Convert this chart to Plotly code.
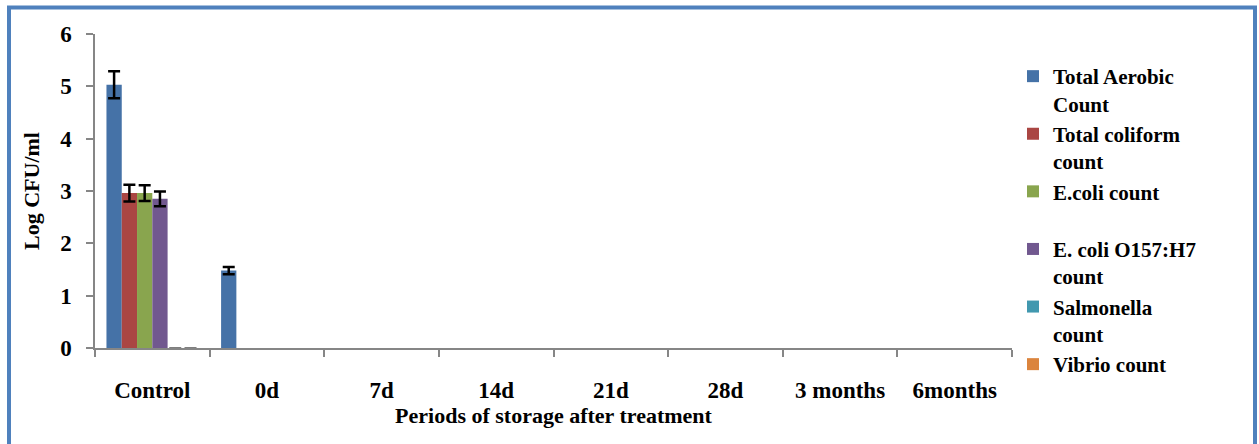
import plotly.graph_objects as go

categories = ["Control", "0d", "7d", "14d", "21d", "28d", "3 months", "6months"]
series_names = ["Total Aerobic<br>Count", "Total coliform<br>count", "E.coli count<br> ",
                "E. coli O157:H7<br>count", "Salmonella<br>count", "Vibrio count"]
tac = [5.03, 1.48, 0, 0, 0, 0, 0, 0]
tcc = [2.96, 0, 0, 0, 0, 0, 0, 0]
ecoli = [2.96, 0, 0, 0, 0, 0, 0, 0]
o157 = [2.85, 0, 0, 0, 0, 0, 0, 0]
salmonella = [0, 0, 0, 0, 0, 0, 0, 0]
vibrio = [0, 0, 0, 0, 0, 0, 0, 0]
tac_err = [0.26, 0.07, None, None, None, None, None, None]
tcc_err = [0.16, None, None, None, None, None, None, None]
ecoli_err = [0.15, None, None, None, None, None, None, None]
o157_err = [0.14, None, None, None, None, None, None, None]
salmonella_err = [0.0, None, None, None, None, None, None, None]
vibrio_err = [0.0, None, None, None, None, None, None, None]
colors = ["#4572A7", "#AA4643", "#89A54E", "#71588F", "#4198AF", "#DB843D"]

values = [tac, tcc, ecoli, o157, salmonella, vibrio]
errors = [tac_err, tcc_err, ecoli_err, o157_err, salmonella_err, vibrio_err]
err_colors = ["black", "black", "black", "black", "#7F7F7F", "#7F7F7F"]

FONT = "Liberation Serif"
fig = go.Figure()
for name, v, e, c, ec in zip(series_names, values, errors, colors, err_colors):
    # zero counts without an error bar are drawn as empty (nothing visible either way)
    yv = [val if (val != 0 or err is not None) else None for val, err in zip(v, e)]
    fig.add_trace(go.Bar(
        x=categories, y=yv, name=name,
        marker=dict(color=c, line=dict(width=0)),
        error_y=dict(type="data", array=e, visible=True, color=ec,
                     thickness=2.5 if ec == "black" else 2, width=6),
    ))

W, H = 1259, 444
L, R, T, B = 95, 247, 34, 96
pw, ph = W - L - R, H - T - B

def px(x):
    return (x - L) / pw

def py(y):
    return (H - B - y) / ph

fig.update_layout(
    width=W, height=H,
    margin=dict(l=L, r=R, t=T, b=B),
    paper_bgcolor="white", plot_bgcolor="white",
    barmode="group", bargap=0.2, bargroupgap=0,
    font=dict(family=FONT, size=21, color="black"),
    showlegend=True,
    legend=dict(x=px(1013), xanchor="left", y=py(56), yanchor="top",
                font=dict(family=FONT, size=21, color="black", weight="bold"),
                tracegroupgap=0, itemwidth=30, bgcolor="rgba(0,0,0,0)",
                valign="top", maxheight=440),
    xaxis=dict(
        showline=True, linecolor="#868686", linewidth=1.5,
        ticks="outside", tickson="boundaries", ticklen=7, tickcolor="#868686", tickwidth=1.5,
        tickfont=dict(family=FONT, size=23, color="black", weight="bold"),
        ticklabelstandoff=21,
        title=dict(text="Periods of storage after treatment",
                   font=dict(family=FONT, size=22, color="black", weight="bold"), standoff=3),
        showgrid=False, zeroline=False,
    ),
    yaxis=dict(
        range=[0, 6], dtick=1, tick0=0,
        showline=True, linecolor="#868686", linewidth=1.5,
        ticks="outside", ticklen=7, tickcolor="#868686", tickwidth=1.5,
        tickfont=dict(family=FONT, size=23, color="black", weight="bold"),
        ticklabelstandoff=10,
        title=dict(text="Log CFU/ml",
                   font=dict(family=FONT, size=22, color="black", weight="bold"), standoff=14),
        showgrid=False, zeroline=False,
    ),
    shapes=[dict(type="rect", xref="paper", yref="paper",
                 x0=px(9), x1=px(1255), y0=py(7.5), y1=py(460),
                 line=dict(color="#4F81BD", width=4), fillcolor="rgba(0,0,0,0)", layer="below")],
)

fig.write_html("out.html")
